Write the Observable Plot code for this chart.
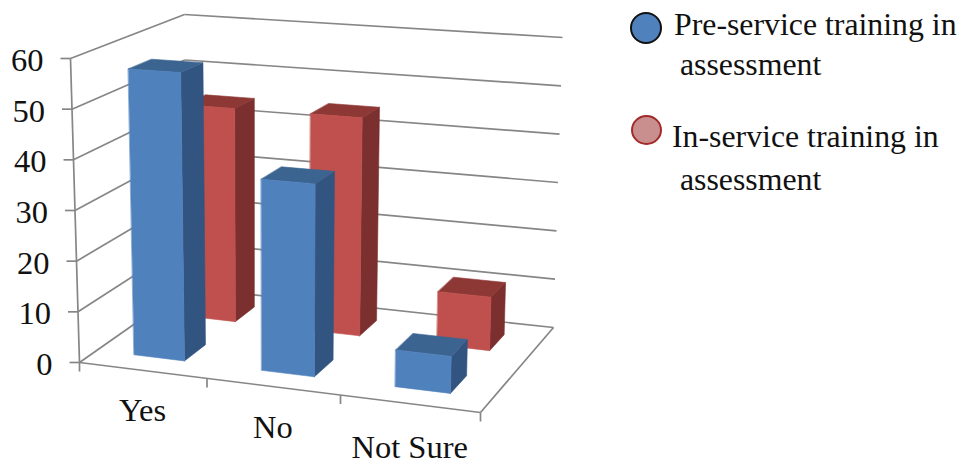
<!DOCTYPE html>
<html>
<head>
<meta charset="utf-8">
<script src="https://cdn.jsdelivr.net/npm/d3@7"></script>
<script src="https://cdn.jsdelivr.net/npm/@observablehq/plot@0.6"></script>
<style>
  html, body { margin: 0; padding: 0; background: #fff; }
  #chart { position: relative; width: 964px; height: 465px; overflow: hidden; font-family: "Liberation Serif", serif; color: #111; }
  #legend { position: absolute; inset: 0; pointer-events: none; font-size: 31.8px; line-height: 1; }
  #legend span { position: absolute; white-space: nowrap; }
  #legend i { position: absolute; border-radius: 50%; box-sizing: border-box; }
</style>
</head>
<body>
<div id="chart"></div>
<script>
// Survey answers, in percent
const categories = ["Yes", "No", "Not Sure"];
const preService = [57, 37.3, 7];
const inService = [44.5, 44.6, 10.7];
const valueTicks = [0, 10, 20, 30, 40, 50, 60];
const valueMax = 60;

// Oblique view of the chart box: where its corners fall on the page
const floorCorners = [[79, 362], [480, 412], [553, 327], [186, 287]];
const ceilingCorners = [[70, 58], [488, 87], [562, 37], [184, 14]];

// Vertical drop of each category label below the front edge
const categoryLabelDrop = [40, 41, 44];

// Homography from the unit square (u along categories, d into the depth)
function squareMap([[x0, y0], [x1, y1], [x2, y2], [x3, y3]]) {
  const dx1 = x1 - x2, dx2 = x3 - x2, sx = x0 - x1 + x2 - x3;
  const dy1 = y1 - y2, dy2 = y3 - y2, sy = y0 - y1 + y2 - y3;
  const det = dx1 * dy2 - dx2 * dy1;
  const g = (sx * dy2 - dx2 * sy) / det;
  const h = (dx1 * sy - sx * dy1) / det;
  return (u, d) => {
    const w = g * u + h * d + 1;
    return [
      ((x1 - x0 + g * x1) * u + (x3 - x0 + h * x3) * d + x0) / w,
      ((y1 - y0 + g * y1) * u + (y3 - y0 + h * y3) * d + y0) / w
    ];
  };
}
const floorMap = squareMap(floorCorners);
const ceilingMap = squareMap(ceilingCorners);

function project(u, d, v) {
  const [fx, fy] = floorMap(u, d);
  const [cx, cy] = ceilingMap(u, d);
  const t = v / valueMax;
  return [fx + (cx - fx) * t, fy + (cy - fy) * t];
}

// Bars take 40% of their category slot and 40% of their series slot
const barShare = 0.4;
const shades = {
  pre: {front: "#4f81bd", side: "#325480", top: "#3c6491"},
  in: {front: "#c0504d", side: "#7b2f2e", top: "#8e3836"}
};

function barFaces(values, seriesIndex, palette, key) {
  const slotU = 1 / categories.length, slotD = 1 / 2;
  return values.flatMap((value, i) => {
    const u0 = slotU * (i + (1 - barShare) / 2), u1 = u0 + slotU * barShare;
    const d0 = slotD * (seriesIndex + (1 - barShare) / 2), d1 = d0 + slotD * barShare;
    const faces = {
      side: [[u1, d0, 0], [u1, d1, 0], [u1, d1, value], [u1, d0, value]],
      top: [[u0, d0, value], [u1, d0, value], [u1, d1, value], [u0, d1, value]],
      front: [[u0, d0, 0], [u1, d0, 0], [u1, d0, value], [u0, d0, value]]
    };
    return Object.entries(faces).flatMap(([name, corners]) =>
      corners.map((c) => {
        const [x, y] = project(...c);
        return {x, y, face: `${key}-${i}-${name}`, color: palette[name]};
      })
    );
  });
}

function segment(a, b) {
  const [x1, y1] = project(...a);
  const [x2, y2] = project(...b);
  return {x1, y1, x2, y2};
}

const frame = [
  ...valueTicks.flatMap((v) => [segment([0, 0, v], [0, 1, v]), segment([0, 1, v], [1, 1, v])]),
  segment([0, 0, 0], [0, 0, valueMax]),
  segment([0, 0, 0], [1, 0, 0]),
  segment([1, 0, 0], [1, 1, 0])
];
const valueMarks = valueTicks.map((v) => {
  const [x, y] = project(0, 0, v);
  return {x, y, label: String(v)};
});
const boundaries = d3.range(categories.length + 1).map((i) => {
  const [x, y] = project(i / categories.length, 0, 0);
  return {x, y};
});
const categoryMarks = categories.map((label, i) => {
  const [x, y] = project((i + 0.5) / categories.length, 0, 0);
  return {x, y: y + categoryLabelDrop[i], label};
});

const grey = "#868686";
const faceMark = (rows) => Plot.line(rows, {
  x: "x", y: "y", z: "face", fill: "color", stroke: "color", strokeWidth: 0.6, curve: "linear-closed"
});

const plot = Plot.plot({
  width: 964,
  height: 465,
  margin: 0,
  x: {domain: [0, 964], range: [0, 964], axis: null},
  y: {domain: [0, 465], range: [0, 465], axis: null},
  color: {type: "identity"},
  style: {background: "transparent", fontFamily: "'Liberation Serif', serif"},
  marks: [
    Plot.link(frame, {x1: "x1", y1: "y1", x2: "x2", y2: "y2", stroke: grey, strokeWidth: 1.7}),
    Plot.link(valueMarks, {x1: (d) => d.x - 10, x2: "x", y1: "y", y2: "y", stroke: grey, strokeWidth: 1.7}),
    Plot.link(boundaries, {x1: "x", x2: "x", y1: "y", y2: (d) => d.y + 9, stroke: grey, strokeWidth: 1.7}),
    faceMark(barFaces(inService, 1, shades.in, "in")),
    faceMark(barFaces(preService, 0, shades.pre, "pre")),
    Plot.text(valueMarks, {x: "x", y: "y", text: "label", dx: -27, dy: 2, textAnchor: "end", fontSize: 32.5, fill: "#111"}),
    Plot.text(categoryMarks, {x: "x", y: "y", text: "label", fontSize: 32.5, fill: "#111"})
  ]
});

const chart = document.getElementById("chart");
chart.append(plot);

// Legend entries sit to the right of the chart box
const legend = document.createElement("div");
legend.id = "legend";
legend.innerHTML = `
  <i style="left:630px;top:12px;width:32px;height:32px;background:#4f81bd;border:2px solid #111"></i>
  <span style="left:674px;top:9px">Pre-service training in</span>
  <span style="left:680px;top:49px">assessment</span>
  <i style="left:631px;top:115px;width:31px;height:30px;background:#c98f8e;border:2px solid #a32a2a"></i>
  <span style="left:672px;top:121px">In-service training in</span>
  <span style="left:680px;top:164px">assessment</span>`;
chart.append(legend);
</script>
</body>
</html>
